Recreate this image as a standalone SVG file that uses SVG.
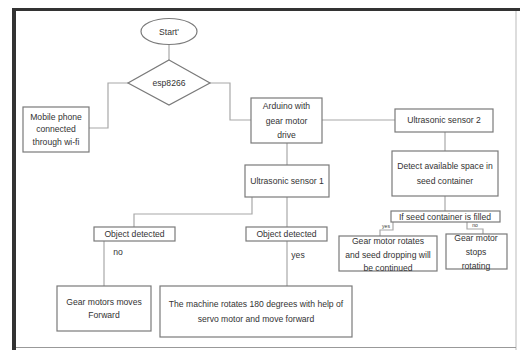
<svg xmlns="http://www.w3.org/2000/svg" width="520" height="350" viewBox="0 0 520 350">
<style>
.bx{fill:#fff;stroke:#7a7a7a;stroke-width:1.2}
.ln{fill:none;stroke:#a8a8a8;stroke-width:1.2}
text{font-family:"Liberation Sans",Arial,sans-serif;font-size:8.6px;fill:#333;text-anchor:middle}
.sm{font-size:5px}
</style>
<rect x="0" y="0" width="520" height="350" fill="#fff"/>
<g id="frame">
<line x1="14" y1="9.5" x2="520" y2="9.5" stroke="#333" stroke-width="3"/>
<line x1="14" y1="8" x2="14" y2="350" stroke="#333" stroke-width="4"/>
<line x1="516" y1="11" x2="516" y2="350" stroke="#bbb" stroke-width="1"/>
<line x1="16" y1="347.5" x2="516" y2="347.5" stroke="#999" stroke-width="1"/>
</g>
<g id="connectors">
<line class="ln" x1="169" y1="45" x2="169" y2="60"/>
<polyline class="ln" points="128,83 108,83 108,128 89,128"/>
<polyline class="ln" points="210,83 230,83 230,120 251,120"/>
<line class="ln" x1="322" y1="120" x2="395" y2="120"/>
<line class="ln" x1="445" y1="132" x2="445" y2="151"/>
<line class="ln" x1="445" y1="196" x2="445" y2="211"/>
<polyline class="ln" points="393,222 393,230 380,230 380,236"/>
<polyline class="ln" points="467,222 467,229 483,229 483,234"/>
<line class="ln" x1="287" y1="143" x2="287" y2="165"/>
<line class="ln" x1="287" y1="197" x2="287" y2="227"/>
<line class="ln" x1="287" y1="241" x2="287" y2="286"/>
<polyline class="ln" points="252,197 252,214 134,214 134,227"/>
<line class="ln" x1="104" y1="241" x2="104" y2="286"/>
<text x="118" y="255">no</text>
<text x="298" y="258">yes</text>
<text class="sm" x="386" y="228">yes</text>
<text class="sm" x="475" y="227">no</text>
</g>
<g id="start">
<ellipse class="bx" cx="169" cy="31.5" rx="28" ry="13"/>
<text x="169" y="35">Start'</text>
</g>
<g id="esp8266">
<polygon class="bx" points="169,60 210,83 169,105 128,83"/>
<text x="169" y="86">esp8266</text>
</g>
<g id="mobile">
<rect class="bx" x="23" y="107" width="66" height="45"/>
<text x="56" y="120">Mobile phone</text>
<text x="56" y="132">connected</text>
<text x="56" y="145">through wi-fi</text>
</g>
<g id="arduino">
<rect class="bx" x="251" y="98" width="71" height="45"/>
<text x="286.5" y="109">Arduino with</text>
<text x="286.5" y="124">gear motor</text>
<text x="286.5" y="138">drive</text>
</g>
<g id="us2">
<rect class="bx" x="395" y="109" width="98" height="23"/>
<text x="444" y="123">Ultrasonic sensor 2</text>
</g>
<g id="detect">
<rect class="bx" x="392" y="151" width="106" height="45"/>
<text x="445" y="169">Detect available space in</text>
<text x="445" y="184">seed container</text>
</g>
<g id="filled">
<rect class="bx" x="391" y="211" width="109" height="11"/>
<text x="445" y="220">If seed container is filled</text>
</g>
<g id="rotates">
<rect class="bx" x="339" y="236" width="98" height="35"/>
<text x="388" y="244">Gear motor rotates</text>
<text x="388" y="258">and seed dropping will</text>
<text x="388" y="271">be continued</text>
</g>
<g id="stops">
<rect class="bx" x="446" y="234" width="61" height="35"/>
<text x="476" y="241">Gear motor</text>
<text x="476" y="255">stops</text>
<text x="476" y="269">rotating</text>
</g>
<g id="us1">
<rect class="bx" x="245" y="165" width="84" height="32"/>
<text x="287" y="184">Ultrasonic sensor 1</text>
</g>
<g id="obj-left">
<rect class="bx" x="94" y="227" width="81" height="14"/>
<text x="134.5" y="237">Object detected</text>
</g>
<g id="obj-right">
<rect class="bx" x="246" y="227" width="81" height="14"/>
<text x="286.5" y="237">Object detected</text>
</g>
<g id="forward">
<rect class="bx" x="57" y="286" width="94" height="45"/>
<text x="104" y="305">Gear motors moves</text>
<text x="104" y="318">Forward</text>
</g>
<g id="machine">
<rect class="bx" x="160" y="286" width="192" height="51"/>
<text x="256" y="307">The machine rotates 180 degrees with help of</text>
<text x="256" y="322">servo motor and move forward</text>
</g>
</svg>
